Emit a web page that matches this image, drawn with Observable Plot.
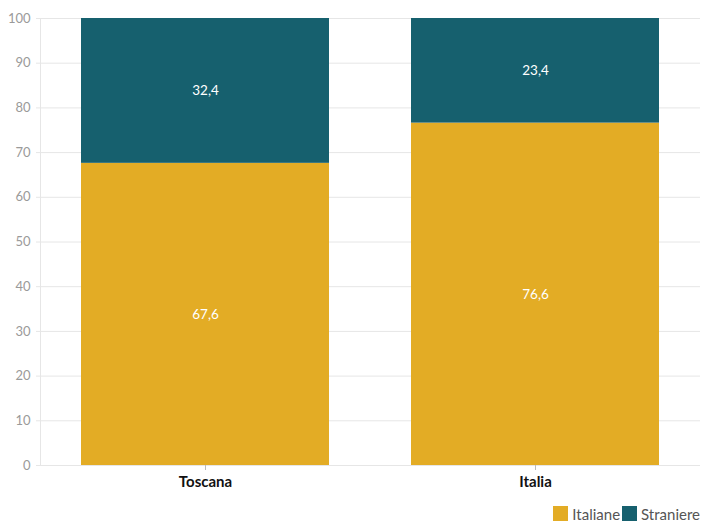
<!DOCTYPE html>
<html>
<head>
<meta charset="utf-8">
<script src="https://cdn.jsdelivr.net/npm/d3@7"></script>
<script src="https://cdn.jsdelivr.net/npm/@observablehq/plot@0.6"></script>
<style>
  body { margin: 0; background: #fff; font-family: Lato, "Noto Sans", sans-serif; overflow: hidden; }
  #legend { display: flex; justify-content: flex-end; padding-right: 4px; margin-top: 4px; }
  .lg-swatch { margin-right: 2px !important; }
  .lg-swatch svg { margin-right: 4px !important; }
</style>
</head>
<body>
<div id="chart"></div>
<div id="legend"></div>
<script>
const regions = ["Toscana", "Italia"];
const series = ["Italiane", "Straniere"];
const italiane = [67.6, 76.6];
const straniere = [32.4, 23.4];
const colors = ["#E3AC25", "#16606E"];
const yTicks = [0, 10, 20, 30, 40, 50, 60, 70, 80, 90, 100];

const data = [];
regions.forEach((r, i) => {
  data.push({region: r, series: series[0], value: italiane[i]});
  data.push({region: r, series: series[1], value: straniere[i]});
});
const fmt = v => v.toFixed(1).replace(".", ",");

const chart = Plot.plot({
  width: 706,
  height: 493,
  marginTop: 18,
  marginBottom: 28,
  marginLeft: 40,
  marginRight: 6,
  style: {fontFamily: "Lato, 'Noto Sans', sans-serif", background: "#fff"},
  x: {domain: regions, paddingInner: 0.25, paddingOuter: 0.125, label: null},
  y: {domain: [0, 100], label: null},
  color: {domain: series, range: colors},
  marks: [
    Plot.gridY(yTicks, {stroke: "#e6e6e6", strokeOpacity: 1}),
    Plot.frame({anchor: "left", stroke: "#e6e6e6"}),
    Plot.axisY(yTicks, {tickSize: 4, stroke: "#e6e6e6", tickPadding: 6, fill: "#9a9a9a", fontSize: 13}),
    Plot.barY(data, Plot.stackY({x: "region", y: "value", fill: "series", order: series})),
    Plot.text(data, Plot.stackY({x: "region", y: "value", z: "series", order: series, text: d => fmt(d.value), fill: "white", fontSize: 13.5})),
    Plot.ruleY([0], {stroke: "#e6e6e6"}),
    Plot.axisX({tickSize: 5, stroke: "#bbb", fill: "#111", fontSize: 15, fontWeight: "bold", tickPadding: 6})
  ]
});
document.getElementById("chart").appendChild(chart);

const legend = Plot.legend({
  color: {domain: series, range: colors},
  legend: "swatches",
  swatchSize: 15,
  className: "lg",
  style: {fontFamily: "Lato, 'Noto Sans', sans-serif", fontSize: "15px", color: "#555"}
});
document.getElementById("legend").appendChild(legend);
</script>
</body>
</html>
